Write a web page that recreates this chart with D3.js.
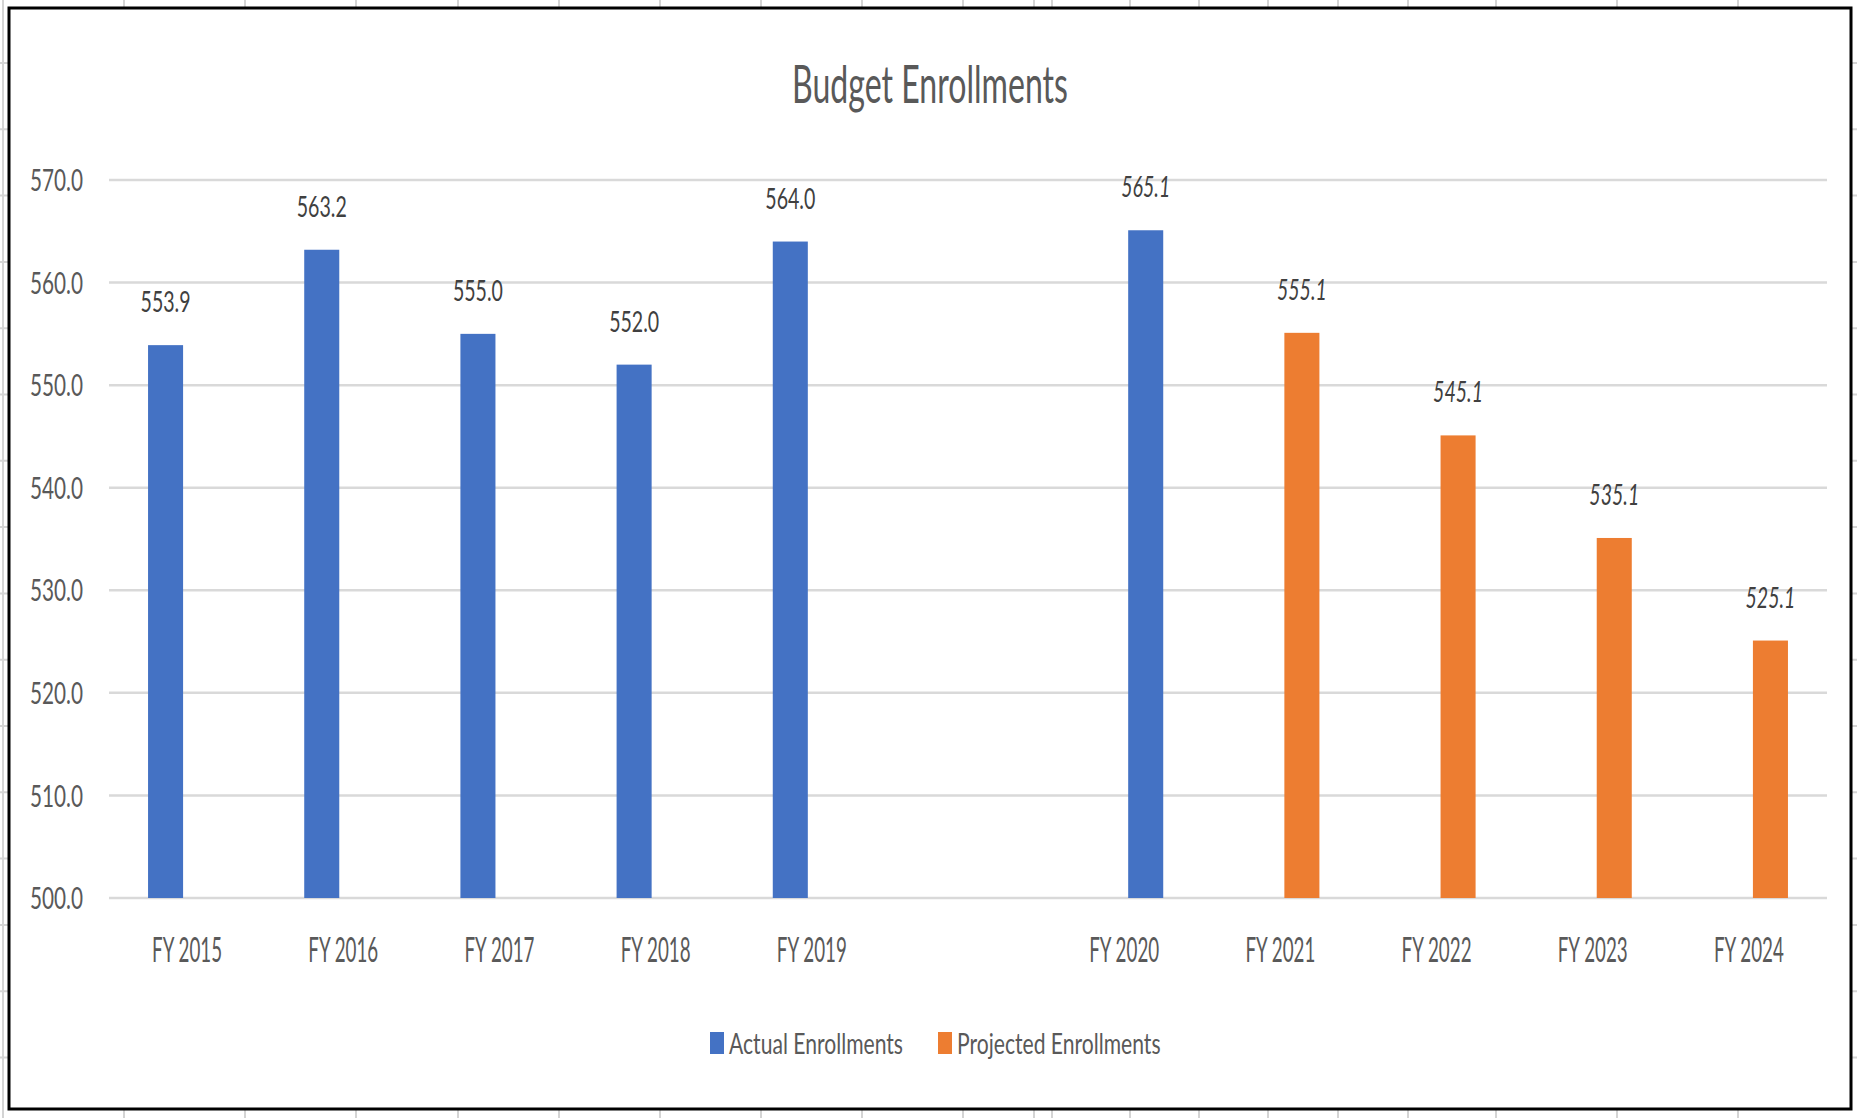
<!DOCTYPE html>
<html>
<head>
<meta charset="utf-8">
<script src="https://cdn.jsdelivr.net/npm/d3@7"></script>
<style>
  html, body { margin: 0; padding: 0; background: #fff; }
  svg { display: block; }
  text { font-family: Lato, "Open Sans", sans-serif; }
</style>
</head>
<body>
<div id="chart"></div>
<script>
// blank slot between FY 2019 and FY 2020 is a real (empty) category in the source sheet
const categories = ["FY 2015", "FY 2016", "FY 2017", "FY 2018", "FY 2019", "", "FY 2020", "FY 2021", "FY 2022", "FY 2023", "FY 2024"];
const actualEnrollments = [553.9, 563.2, 555.0, 552.0, 564.0, null, null, null, null, null, null];
const projectedEnrollments = [null, null, null, null, null, null, 565.1, 555.1, 545.1, 535.1, 525.1];
const seriesNames = ["Actual Enrollments", "Projected Enrollments"];
const recolouredPoints = ["FY 2020"]; // projected point filled with the actual colour
const yTicks = [500, 510, 520, 530, 540, 550, 560, 570];
const titleText = "Budget Enrollments";

const width = 1857;
const height = 1118;
const margin = { top: 180, right: 30, bottom: 220, left: 109 };
const colors = { actual: "#4472C4", projected: "#ED7D31" };
const textColor = "#595959";
const gridColor = "#d9d9d9";

// font settings: size gives the cap height, width is a sample string's width
// (the source picture is stretched vertically, so text is condensed to match)
const fonts = {
  title: { size: 53, sample: titleText, width: 276 },
  tick: { size: 31, sample: "570.0", width: 53 },
  category: { size: 34, sample: "FY 2015", width: 70 },
  value: { size: 29, sample: "553.9", width: 50 },
  legend: { size: 29, sample: "Actual Enrollments", width: 174 },
};

const svg = d3
  .select("#chart")
  .append("svg")
  .attr("width", width)
  .attr("height", height)
  .attr("viewBox", [0, 0, width, height]);

// work out the horizontal squeeze for each kind of text
Object.values(fonts).forEach((f) => {
  const t = svg.append("text").attr("font-size", f.size).text(f.sample);
  f.sx = f.width / t.node().getComputedTextLength();
  t.remove();
});

function placeText(sel, font, x, y) {
  return sel
    .attr("font-size", font.size)
    .attr("transform", (d, i) => {
      const px = typeof x === "function" ? x(d, i) : x;
      const py = typeof y === "function" ? y(d, i) : y;
      return `translate(${px},${py}) scale(${font.sx},1)`;
    });
}

// spreadsheet cells peeking out around the chart object
const sheetCols = [124, 245, 356, 458, 559, 660, 761, 862, 963, 1034, 1052, 1130, 1199, 1268, 1338, 1408, 1496, 1617, 1738];
const sheetRows = d3.range(63, height, 66.3);
const gSheet = svg.append("g").attr("stroke", "#d4d4d4").attr("stroke-width", 2);
gSheet
  .selectAll(".col")
  .data(sheetCols)
  .join("line")
  .attr("x1", (d) => d)
  .attr("x2", (d) => d)
  .attr("y1", 0)
  .attr("y2", height);
gSheet
  .selectAll(".row")
  .data(sheetRows)
  .join("line")
  .attr("x1", 0)
  .attr("x2", width)
  .attr("y1", (d) => d)
  .attr("y2", (d) => d);
gSheet.append("line").attr("x1", 3).attr("x2", 3).attr("y1", 0).attr("y2", height);

// chart object
svg
  .append("rect")
  .attr("x", 9)
  .attr("y", 8)
  .attr("width", 1842)
  .attr("height", 1101)
  .attr("fill", "#fff")
  .attr("stroke", "#000")
  .attr("stroke-width", 3);

const x = d3
  .scaleBand()
  .domain(d3.range(categories.length))
  .range([margin.left, width - margin.right])
  .padding(0);
const xSeries = d3
  .scaleBand()
  .domain(["actual", "projected"])
  .range([0, x.bandwidth()])
  .paddingInner(0.186)
  .paddingOuter(0.907);
const y = d3
  .scaleLinear()
  .domain([d3.min(yTicks), d3.max(yTicks)])
  .range([height - margin.bottom, margin.top]);

// gridlines
svg
  .append("g")
  .attr("class", "grid")
  .selectAll("line")
  .data(yTicks)
  .join("line")
  .attr("x1", margin.left)
  .attr("x2", width - margin.right)
  .attr("y1", (d) => y(d))
  .attr("y2", (d) => y(d))
  .attr("stroke", gridColor)
  .attr("stroke-width", 2.5);

// y tick labels
svg
  .append("g")
  .attr("class", "axis axis-y")
  .selectAll("text")
  .data(yTicks)
  .join("text")
  .attr("text-anchor", "end")
  .attr("dy", "0.36em")
  .attr("fill", textColor)
  .text(d3.format(".1f"))
  .call(placeText, fonts.tick, 83, (d) => y(d));

// category labels
svg
  .append("g")
  .attr("class", "axis axis-x")
  .selectAll("text")
  .data(categories)
  .join("text")
  .attr("text-anchor", "middle")
  .attr("fill", textColor)
  .text((d) => d)
  .call(placeText, fonts.category, (d, i) => x(i) + x.bandwidth() / 2, 962);

const barData = [
  ...actualEnrollments.map((v, i) => ({ key: "actual", i, v })),
  ...projectedEnrollments.map((v, i) => ({ key: "projected", i, v })),
].filter((d) => d.v != null);

const fillFor = (d) =>
  d.key === "projected" && !recolouredPoints.includes(categories[d.i])
    ? colors.projected
    : colors.actual;

svg
  .append("g")
  .attr("class", "bars")
  .selectAll("rect")
  .data(barData)
  .join("rect")
  .attr("x", (d) => x(d.i) + xSeries(d.key))
  .attr("width", xSeries.bandwidth())
  .attr("y", (d) => y(d.v))
  .attr("height", (d) => y(d3.min(yTicks)) - y(d.v))
  .attr("fill", fillFor);

// data labels, projected ones in italics
svg
  .append("g")
  .attr("class", "labels")
  .selectAll("text")
  .data(barData)
  .join("text")
  .attr("text-anchor", "middle")
  .attr("fill", "#404040")
  .attr("font-style", (d) => (d.key === "projected" ? "italic" : "normal"))
  .text((d) => d3.format(".1f")(d.v))
  .call(
    placeText,
    fonts.value,
    (d) => x(d.i) + xSeries(d.key) + xSeries.bandwidth() / 2,
    (d) => y(d.v) - 33
  );

// title
svg
  .append("text")
  .attr("text-anchor", "middle")
  .attr("fill", textColor)
  .text(titleText)
  .call(placeText, fonts.title, 930, 103);

// legend
const legendX = [710, 938];
const gLegend = svg
  .append("g")
  .attr("class", "legend")
  .selectAll("g")
  .data(seriesNames)
  .join("g")
  .attr("transform", (d, i) => `translate(${legendX[i]},1032)`);
gLegend
  .append("rect")
  .attr("width", 14)
  .attr("height", 22)
  .attr("fill", (d, i) => (i === 0 ? colors.actual : colors.projected));
gLegend
  .append("text")
  .attr("fill", textColor)
  .text((d) => d)
  .call(placeText, fonts.legend, 19, 22);
</script>
</body>
</html>
